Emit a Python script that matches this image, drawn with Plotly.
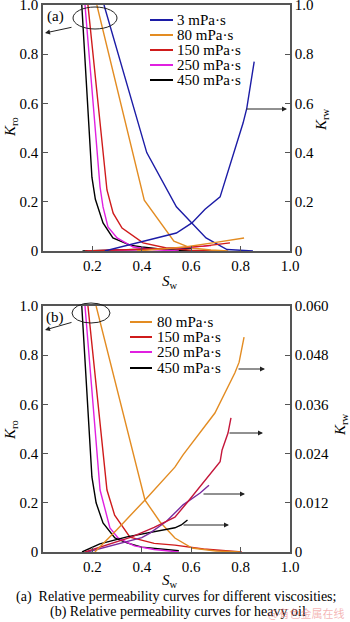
import plotly.graph_objects as go

W, H = 350, 622

# ---------------- data (a) ----------------
labels_a = ["3 mPa·s", "80 mPa·s", "150 mPa·s", "250 mPa·s", "450 mPa·s"]
colors_a = ["#1c1ca6", "#e38c22", "#cf1b1b", "#e020e0", "#000000"]

sw_a_kro_3 = [0.247, 0.42, 0.54, 0.66, 0.745, 0.80, 0.85]
kro_a_3 = [1.0, 0.40, 0.18, 0.053, 0.006, 0.002, 0.0]
sw_a_kro_80 = [0.218, 0.41, 0.53, 0.60, 0.68, 0.75]
kro_a_80 = [1.0, 0.207, 0.04, 0.012, 0.004, 0.0]
sw_a_kro_150 = [0.182, 0.259, 0.284, 0.32, 0.405, 0.5, 0.6, 0.7]
kro_a_150 = [1.0, 0.248, 0.154, 0.093, 0.033, 0.012, 0.003, 0.0]
sw_a_kro_250 = [0.17, 0.231, 0.243, 0.263, 0.30, 0.365, 0.45, 0.55]
kro_a_250 = [1.0, 0.26, 0.179, 0.098, 0.053, 0.016, 0.005, 0.0]
sw_a_kro_450 = [0.157, 0.198, 0.212, 0.243, 0.283, 0.352, 0.40, 0.5, 0.6]
kro_a_450 = [1.0, 0.30, 0.21, 0.114, 0.053, 0.024, 0.016, 0.005, 0.0]

sw_a_krw_3 = [0.25, 0.54, 0.603, 0.656, 0.717, 0.81, 0.825, 0.855]
krw_a_3 = [0.0, 0.073, 0.114, 0.17, 0.22, 0.52, 0.58, 0.77]
sw_a_krw_80 = [0.38, 0.5, 0.575, 0.7, 0.814]
krw_a_80 = [0.0, 0.008, 0.016, 0.035, 0.053]
sw_a_krw_150 = [0.17, 0.35, 0.5, 0.65, 0.757]
krw_a_150 = [0.0, 0.004, 0.01, 0.02, 0.033]
sw_a_krw_250 = [0.18, 0.4, 0.55, 0.68]
krw_a_250 = [0.0, 0.005, 0.012, 0.022]
sw_a_krw_450 = [0.16, 0.35, 0.5, 0.6]
krw_a_450 = [0.0, 0.004, 0.008, 0.012]

# ---------------- data (b) ----------------
labels_b = ["80 mPa·s", "150 mPa·s", "250 mPa·s", "450 mPa·s"]
colors_b = ["#e38c22", "#cf1b1b", "#e020e0", "#000000"]
colors_b_krw = ["#e38c22", "#c4163a", "#7a2a9e", "#000000"]

sw_b_kro_80 = [0.215, 0.413, 0.474, 0.534, 0.603, 0.7, 0.8]
kro_b_80 = [1.0, 0.211, 0.122, 0.057, 0.016, 0.004, 0.0]
sw_b_kro_150 = [0.182, 0.259, 0.29, 0.352, 0.45, 0.534, 0.65, 0.805]
kro_b_150 = [1.0, 0.252, 0.15, 0.06, 0.035, 0.028, 0.012, 0.0]
sw_b_kro_250 = [0.17, 0.231, 0.271, 0.304, 0.37, 0.45, 0.55]
kro_b_250 = [1.0, 0.252, 0.098, 0.057, 0.025, 0.01, 0.0]
sw_b_kro_450 = [0.157, 0.198, 0.215, 0.243, 0.291, 0.34, 0.40, 0.55]
kro_b_450 = [1.0, 0.305, 0.2, 0.118, 0.057, 0.037, 0.02, 0.005]

sw_b_krw_80 = [0.21, 0.30, 0.413, 0.534, 0.567, 0.696, 0.777, 0.794, 0.814]
krw_b_80 = [0.0, 0.0055, 0.0127, 0.0207, 0.0237, 0.0339, 0.0437, 0.0463, 0.0524]
sw_b_krw_150 = [0.17, 0.25, 0.36, 0.45, 0.534, 0.583, 0.717, 0.725, 0.749, 0.761]
krw_b_150 = [0.0, 0.0015, 0.0037, 0.006, 0.0085, 0.012, 0.022, 0.0249, 0.029, 0.0327]
sw_b_krw_250 = [0.18, 0.3, 0.4, 0.433, 0.5, 0.567, 0.636, 0.672]
krw_b_250 = [0.0, 0.002, 0.0035, 0.0046, 0.0075, 0.0115, 0.0144, 0.0163]
sw_b_krw_450 = [0.158, 0.23, 0.34, 0.45, 0.534, 0.56, 0.585]
krw_b_450 = [0.0, 0.002, 0.0037, 0.0049, 0.0059, 0.0066, 0.0078]

x_ticks = [0.2, 0.4, 0.6, 0.8, 1.0]
x_ticktext = ["0.2", "0.4", "0.6", "0.8", "1.0"]
kro_ticks = [0, 0.2, 0.4, 0.6, 0.8, 1.0]
kro_ticktext = ["0", "0.2", "0.4", "0.6", "0.8", "1.0"]
krw_a_ticks = [0, 0.2, 0.4, 0.6, 0.8, 1.0]
krw_a_ticktext = ["0", "0.2", "0.4", "0.6", "0.8", "1.0"]
krw_b_ticks = [0, 0.012, 0.024, 0.036, 0.048, 0.060]
krw_b_ticktext = ["0", "0.012", "0.024", "0.036", "0.048", "0.060"]

caption1 = "(a)  Relative permeability curves for different viscosities;"
caption2 = "(b) Relative permeability curves for heavy oil"
watermark = "@有色金属在线"

# ---------------- helpers ----------------
def px(x):
    return x / W

def py(y):
    return 1 - y / H

FONT = "Liberation Serif"
AX = "#555555"
LW = 1.4

fig = go.Figure()

kro_a = [(sw_a_kro_3, kro_a_3), (sw_a_kro_80, kro_a_80), (sw_a_kro_150, kro_a_150),
         (sw_a_kro_250, kro_a_250), (sw_a_kro_450, kro_a_450)]
krw_a = [(sw_a_krw_3, krw_a_3), (sw_a_krw_80, krw_a_80), (sw_a_krw_150, krw_a_150),
         (sw_a_krw_250, krw_a_250), (sw_a_krw_450, krw_a_450)]
for i in range(4, -1, -1):
    fig.add_trace(go.Scatter(x=krw_a[i][0], y=krw_a[i][1], mode="lines", xaxis="x", yaxis="y2",
                             line=dict(color=colors_a[i], width=LW), showlegend=False))
for i in range(4, -1, -1):
    fig.add_trace(go.Scatter(x=kro_a[i][0], y=kro_a[i][1], mode="lines", xaxis="x", yaxis="y",
                             line=dict(color=colors_a[i], width=LW), showlegend=False))

kro_b = [(sw_b_kro_80, kro_b_80), (sw_b_kro_150, kro_b_150), (sw_b_kro_250, kro_b_250),
         (sw_b_kro_450, kro_b_450)]
krw_b = [(sw_b_krw_80, krw_b_80), (sw_b_krw_150, krw_b_150), (sw_b_krw_250, krw_b_250),
         (sw_b_krw_450, krw_b_450)]
for i in range(3, -1, -1):
    fig.add_trace(go.Scatter(x=krw_b[i][0], y=krw_b[i][1], mode="lines", xaxis="x2", yaxis="y4",
                             line=dict(color=colors_b_krw[i], width=LW), showlegend=False))
for i in range(3, -1, -1):
    fig.add_trace(go.Scatter(x=kro_b[i][0], y=kro_b[i][1], mode="lines", xaxis="x2", yaxis="y3",
                             line=dict(color=colors_b[i], width=LW), showlegend=False))

xdom = [px(43), px(290)]
dom_a = [py(251), py(5)]
dom_b = [py(552), py(306)]
tickfont = dict(family=FONT, size=15, color="black")

def xax(anchor, domain):
    return dict(domain=domain, anchor=anchor, range=[0, 1.0], tickvals=x_ticks, ticktext=x_ticktext,
                ticks="inside", ticklen=5, tickcolor=AX, tickwidth=1.2, showline=True, linecolor=AX,
                linewidth=1.5, mirror=True, showgrid=False, zeroline=False, tickfont=tickfont,
                ticklabeloverflow="allow")

def yax(anchor, domain, tv, tt, rng, side="left", overlaying=None):
    d = dict(domain=domain, anchor=anchor, range=rng, tickvals=tv, ticktext=tt, side=side,
             ticks="inside", ticklen=5, tickcolor=AX, tickwidth=1.2, showline=True, linecolor=AX,
             linewidth=1.5, showgrid=False, zeroline=False, tickfont=tickfont,
             ticklabeloverflow="allow")
    if overlaying:
        d["overlaying"] = overlaying
    return d

layout = dict(
    width=W, height=H, margin=dict(l=0, r=0, t=0, b=0, autoexpand=False),
    paper_bgcolor="white", plot_bgcolor="white", showlegend=False,
    font=dict(family=FONT),
    xaxis=xax("y", xdom),
    yaxis=yax("x", dom_a, kro_ticks, kro_ticktext, [0, 1.0]),
    yaxis2=yax("x", dom_a, krw_a_ticks, krw_a_ticktext, [0, 1.0], side="right", overlaying="y"),
    xaxis2=xax("y3", xdom),
    yaxis3=yax("x2", dom_b, kro_ticks, kro_ticktext, [0, 1.0]),
    yaxis4=yax("x2", dom_b, krw_b_ticks, krw_b_ticktext, [0, 0.060], side="right", overlaying="y3"),
)
fig.update_layout(**layout)

shapes = []
annotations = []

def text(x, y, s, size=15, angle=0, xanchor="center", color="black", family=FONT):
    annotations.append(dict(x=px(x), y=py(y), xref="paper", yref="paper", text=s, showarrow=False,
                            textangle=angle, xanchor=xanchor, yanchor="middle",
                            font=dict(family=family, size=size, color=color)))

def arrow(x0, y0, x1, y1):
    annotations.append(dict(x=px(x1), y=py(y1), xref="paper", yref="paper", ax=x0 - x1, ay=y0 - y1,
                            axref="pixel", ayref="pixel", text="", showarrow=True, arrowhead=2,
                            arrowsize=1, arrowwidth=1, arrowcolor="#222222"))

def ellipse(cx, cy, rx, ry):
    shapes.append(dict(type="circle", xref="paper", yref="paper", x0=px(cx - rx), x1=px(cx + rx),
                       y0=py(cy + ry), y1=py(cy - ry), line=dict(color="#222222", width=1)))

# legends
rows_a = [20, 35, 50, 65, 80]
for lab, col, yy in zip(labels_a, colors_a, rows_a):
    shapes.append(dict(type="line", xref="paper", yref="paper", x0=px(150), x1=px(173), y0=py(yy), y1=py(yy),
                       line=dict(color=col, width=2)))
    text(175, yy, lab, size=15, xanchor="left")
rows_b = [322, 337, 352, 368]
for lab, col, yy in zip(labels_b, colors_b, rows_b):
    shapes.append(dict(type="line", xref="paper", yref="paper", x0=px(130), x1=px(152), y0=py(yy), y1=py(yy),
                       line=dict(color=col, width=2)))
    text(155, yy, lab, size=15, xanchor="left")

# axis titles
text(11, 127, "<i>K</i><sub>ro</sub>", size=15, angle=-90)
text(322, 120, "<i>K</i><sub>rw</sub>", size=15, angle=-90)
text(170, 282, "<i>S</i><sub>w</sub>", size=15)
text(11, 430, "<i>K</i><sub>ro</sub>", size=15, angle=-90)
text(341, 425, "<i>K</i><sub>rw</sub>", size=15, angle=-90)
text(170, 581, "<i>S</i><sub>w</sub>", size=15)

# panel labels, ellipses, arrows
text(55, 17, "(a)", size=15)
text(55, 317, "(b)", size=15)
ellipse(95, 18, 22, 11)
ellipse(91, 313, 19, 10)
arrow(73, 27, 45, 33)
arrow(73, 322, 45, 330)
arrow(245, 109, 287, 109)
arrow(237, 369, 265, 369)
arrow(228, 433, 263, 433)
arrow(202, 494, 245, 494)
arrow(182, 525, 229, 525)

# captions
text(176, 597, caption1, size=14)
text(178, 612, caption2, size=14)
text(346, 613, watermark, size=11, xanchor="right", color="rgba(235,120,120,0.55)",
     family="Noto Sans CJK SC")

fig.update_layout(shapes=shapes, annotations=annotations)
fig.write_html("out.html")
